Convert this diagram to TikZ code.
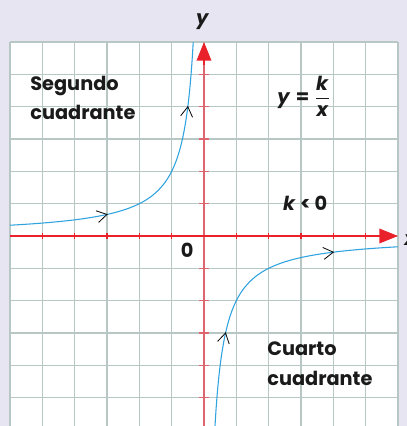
\documentclass[tikz,border=0pt]{standalone}
\usepackage{fontspec}
\usepackage{amsmath}
\setmainfont{Poppins}
\usetikzlibrary{arrows.meta,calc}
\definecolor{bgl}{HTML}{E8E5F3}
\definecolor{gridc}{HTML}{B7C7C3}
\definecolor{xred}{HTML}{E8212B}
\definecolor{ypink}{HTML}{DD6570}
\definecolor{curvec}{HTML}{2FA3DF}
\definecolor{txt}{HTML}{1A1A1A}
\begin{document}
\begin{tikzpicture}[x=24.25pt,y=24.25pt,
  gridline/.style={gridc,line width=1.1pt},
  xaxis/.style={xred,line width=1pt},
  yaxis/.style={ypink,line width=1.2pt},
  curve/.style={curvec,line width=0.8pt},
  chev/.style={black,line width=0.6pt},
  lbl/.style={txt,font=\fontsize{14.5}{18}\selectfont\bfseries,inner sep=0pt,anchor=base west},
  tip/.style={-{Triangle[length=14pt,width=11pt]}}]
\useasboundingbox (-6.309,-5.876) rectangle (6.278,7.299);
\fill[bgl] (-6.309,-5.876) rectangle (6.278,7.299);
\begin{scope}
\clip (-6.309,-5.876) rectangle (6.278,7.299);
\fill[white] (-6,-6) rectangle (6,6);
\foreach \i in {-6,...,6} \draw[gridline] (\i,-6) -- (\i,6);
\foreach \j in {-6,...,6} \draw[gridline] (-6,\j) -- (6,\j);
% axes
\draw[yaxis] (0,-6) -- (0,5.4);
\foreach \j in {-5,...,-1,1,2,...,5} \draw[yaxis] (-0.14,\j) -- (0.14,\j);
\draw[xaxis] (-6,0) -- (5.5,0);
\foreach \i in {-5,...,-1,1,2,...,5} \draw[xaxis] (\i,-0.1) -- (\i,0.1);
\draw[xaxis,tip] (5.3,0) -- (6,0);
\draw[xaxis,tip] (0,5.3) -- (0,6);
% curves
\draw[curve] plot[domain=-6:-0.3333,samples=300] (\x,{-2/\x});
\draw[curve] plot[domain=0.3333:6,samples=300] (\x,{-2/\x});
\coordinate (c1) at (-3,0.6667);
\coordinate (c2) at (-0.5,4);
\coordinate (c3) at (0.6667,-3);
\coordinate (c4) at (4,-0.5);
\draw[chev] ([shift={(161.5:0.36)}]c1) -- (c1) -- ([shift={(-136.5:0.36)}]c1);
\draw[chev] ([shift={(231.9:0.36)}]c2) -- (c2) -- ([shift={(-66.1:0.36)}]c2);
\draw[chev] ([shift={(226.5:0.36)}]c3) -- (c3) -- ([shift={(-71.5:0.36)}]c3);
\draw[chev] ([shift={(156.1:0.36)}]c4) -- (c4) -- ([shift={(-141.9:0.36)}]c4);
% labels
\node[lbl] (seg1) at (-5.38,4.49) {Segundo};
\node[lbl] (seg2) at (-5.38,3.59) {cuadrante};
\node[lbl] (cua1) at (1.95,-3.71) {Cuarto};
\node[lbl] (cua2) at (1.95,-4.61) {cuadrante};
\node[lbl] (zero) at (-0.72,-0.65) {0};
\node[lbl] (kneg) at (2.44,0.80) {\textit{k} < 0};
\node[lbl,anchor=west] (eq) at (2.26,4.33) {$\textbf{\textit{y}}\mathrel{\text{\bfseries=}}\dfrac{\textbf{\textit{k}}}{\textbf{\textit{x}}}$};
\node[lbl] (xl) at (6.19,-0.3) {\textit{x}};
\end{scope}
\node[lbl,anchor=base] (yl) at (-0.04,6.53) {\textit{y}};
\end{tikzpicture}
\end{document}
